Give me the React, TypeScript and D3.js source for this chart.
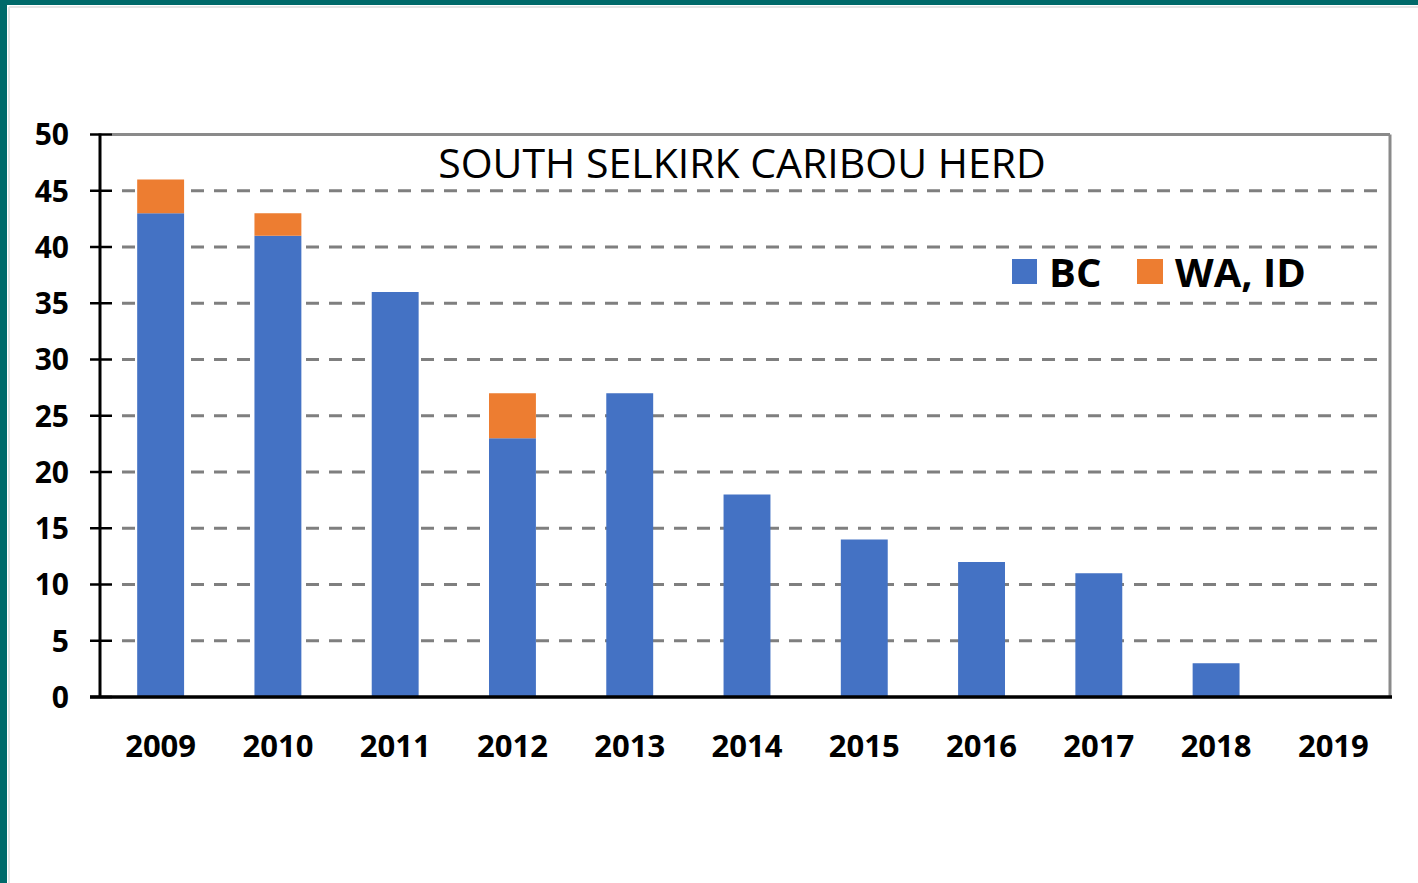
import React from "react";
import * as d3 from "d3";

const years = ["2009","2010","2011","2012","2013","2014","2015","2016","2017","2018","2019"];
const bcValues = [43, 41, 36, 23, 27, 18, 14, 12, 11, 3, 0];
const waIdValues = [3, 2, 0, 4, 0, 0, 0, 0, 0, 0, 0];
const seriesNames = ["BC", "WA, ID"];
const seriesColors = ["#4472C4", "#ED7D31"];
const yTicks = [0, 5, 10, 15, 20, 25, 30, 35, 40, 45, 50];
const title = "SOUTH SELKIRK CARIBOU HERD";

const W = 1418, H = 883;
const left = 100, right = 1390, top = 134.5, bottom = 697;
const FONT = "'Open Sans', 'Noto Sans', sans-serif";

export default function App() {
  const x = d3.scaleBand<string>().domain(years).range([left + 2, right + 2]).paddingInner(0.6).paddingOuter(0.3);
  const y = d3.scaleLinear().domain([0, 50]).range([bottom, top]);
  const rows = years.map((yr, i) => ({ year: yr, BC: bcValues[i], WA: waIdValues[i] }));
  const stack = d3.stack<any>().keys(["BC", "WA"])(rows);

  return (
    <svg width={W} height={H} style={{ position: "absolute", left: 0, top: 0, background: "#fff" }}>
      <rect x={0} y={0} width={W} height={H} fill="#fff" />
      {/* teal border */}
      <rect x={0} y={0} width={W} height={5} fill="#006A6A" />
      <rect x={0} y={0} width={7} height={H} fill="#006A6A" />
      <line x1={9} x2={W} y1={7} y2={7} stroke="#e6e6e6" strokeWidth={2} />
      <line x1={9} x2={9} y1={7} y2={H} stroke="#e6e6e6" strokeWidth={2} />

      {/* gridlines */}
      {yTicks.filter(t => t > 0 && t < 50).map(t => (
        <line key={t} x1={112} x2={1386} y1={y(t)} y2={y(t)} stroke="#7f7f7f" strokeWidth={3} strokeDasharray="13,10" strokeDashoffset={-10} />
      ))}
      {/* frame */}
      <line x1={112} x2={1390} y1={top} y2={top} stroke="#8a8a8a" strokeWidth={3} />
      <line x1={1390} x2={1390} y1={top} y2={bottom} stroke="#8a8a8a" strokeWidth={3} />

      {/* bars */}
      {stack.map((s, si) => (
        <g key={si} fill={seriesColors[si]}>
          {s.map((d, i) => (
            d[1] - d[0] > 0 ? (
              <rect key={i} x={x(years[i])} width={x.bandwidth()} y={y(d[1])} height={y(d[0]) - y(d[1])} />
            ) : null
          ))}
        </g>
      ))}

      {/* y axis */}
      <line x1={100} x2={100} y1={top - 1} y2={bottom + 1} stroke="#000" strokeWidth={3} />
      {yTicks.map(t => (
        <g key={t}>
          <line x1={90} x2={112} y1={y(t)} y2={y(t)} stroke="#000" strokeWidth={2.5} />
          <text x={69} y={y(t)} dy="0.36em" textAnchor="end" fontFamily={FONT} fontWeight="bold" fontSize={30} fill="#000">{t}</text>
        </g>
      ))}
      {/* x axis */}
      <line x1={90} x2={1392} y1={bottom} y2={bottom} stroke="#000" strokeWidth={3.5} />
      {years.map(yr => (
        <text key={yr} x={(x(yr) as number) + x.bandwidth() / 2} y={757} textAnchor="middle" fontFamily={FONT} fontWeight="bold" fontSize={31} fill="#000">{yr}</text>
      ))}

      {/* title */}
      <text x={742} y={178} textAnchor="middle" fontFamily={FONT} fontSize={41} fill="#000">{title}</text>

      {/* legend */}
      <rect x={1012} y={259} width={25} height={25} fill={seriesColors[0]} />
      <text x={1049} y={287} fontFamily={FONT} fontWeight="bold" fontSize={40} fill="#000">{seriesNames[0]}</text>
      <rect x={1137} y={259} width={26} height={25} fill={seriesColors[1]} />
      <text x={1175} y={287} fontFamily={FONT} fontWeight="bold" fontSize={40} fill="#000">{seriesNames[1]}</text>
    </svg>
  );
}
